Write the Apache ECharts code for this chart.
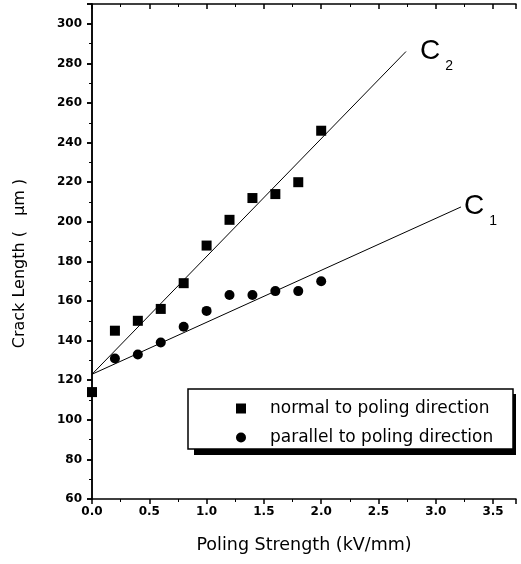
<!DOCTYPE html>
<html><head><meta charset="utf-8">
<script src="https://cdn.jsdelivr.net/npm/echarts@6/dist/echarts.min.js"></script>
<style>html,body{margin:0;padding:0;background:#fff}#c{width:521px;height:564px}</style>
</head><body><div id="c"></div>
<script>
var normalX = [0.0, 0.2, 0.4, 0.6, 0.8, 1.0, 1.2, 1.4, 1.6, 1.8, 2.0];
var normalY = [114, 145, 150, 156, 169, 188, 201, 212, 214, 220, 246];
var parallelX = [0.2, 0.4, 0.6, 0.8, 1.0, 1.2, 1.4, 1.6, 1.8, 2.0];
var parallelY = [131, 133, 139, 147, 155, 163, 163, 165, 165, 170];
var fitC2 = [[0, 123], [2.74, 286]];
var fitC1 = [[0, 123], [3.22, 207.5]];
var fitNames = ['2', '1'];

var font = '"Liberation Sans", Arial, sans-serif';
var wide = '"DejaVu Sans", sans-serif';
var chart = echarts.init(document.getElementById('c'));
function pairs(xs, ys){ return xs.map(function(x,i){return [x, ys[i]];}); }
function cLabel(sub, dist, off){
  return {show: true, distance: dist, offset: off, color: '#000',
    formatter: '{c|C}{s|' + sub + '}',
    rich: {c: {fontFamily: font, fontSize: 28, color: '#000', padding: [0, 0, 8, 0], verticalAlign: 'bottom'},
           s: {fontFamily: font, fontSize: 14, color: '#000', padding: [0, 0, 0, 5], verticalAlign: 'bottom'}}};
}

var option = {
  animation: false,
  backgroundColor: '#fff',
  grid: {left: 92, right: 5, top: 4, bottom: 65},
  legend: {
    orient: 'vertical', left: 236, top: 400, itemGap: 12, padding: 0,
    itemWidth: 10, itemHeight: 10,
    data: ['normal to poling direction', 'parallel to poling direction'],
    textStyle: {fontFamily: wide, fontSize: 17, color: '#000', padding: [0,0,0,19]}
  },
  graphic: [
    {type: 'rect', shape: {x: 194, y: 394, width: 322, height: 61}, style: {fill: '#000'}, z: 0},
    {type: 'rect', shape: {x: 188, y: 389, width: 325, height: 60}, style: {fill: '#fff', stroke: '#000', lineWidth: 1.5}, z: 1}
  ],
  xAxis: [{
    type: 'value', min: 0, max: 3.7, interval: 0.5,
    name: 'Poling Strength (kV/mm)', nameLocation: 'middle', nameGap: 37,
    nameTextStyle: {fontFamily: wide, fontSize: 17.5, color: '#000'},
    axisLine: {show: true, lineStyle: {color: '#000', width: 1.5}},
    axisTick: {show: true, inside: false, length: 5, lineStyle: {color: '#000', width: 1.5}},
    minorTick: {show: true, splitNumber: 2, length: 3, lineStyle: {color: '#000'}},
    axisLabel: {fontFamily: wide, fontSize: 12, fontWeight: 'bold', color: '#000', margin: 7, showMaxLabel: false,
      formatter: function(v){ return v.toFixed(1); }},
    splitLine: {show: false}
  }, {
    type: 'value', position: 'top', min: 0, max: 3.7, interval: 0.5,
    axisLine: {show: true, lineStyle: {color: '#000', width: 1.5}},
    axisTick: {show: true, inside: true, length: 5, lineStyle: {color: '#000', width: 1.5}},
    minorTick: {show: true, splitNumber: 2, length: 3, lineStyle: {color: '#000'}},
    axisLabel: {show: false}, splitLine: {show: false}
  }],
  yAxis: [{
    type: 'value', min: 60, max: 310, interval: 20,
    name: 'Crack Length (   \u03bcm )', nameLocation: 'middle', nameGap: 64,
    nameTextStyle: {fontFamily: wide, fontSize: 16, color: '#000', padding: [0, 24, 0, 0]},
    axisLine: {show: true, lineStyle: {color: '#000', width: 1.5}},
    axisTick: {show: true, inside: false, length: 5, lineStyle: {color: '#000', width: 1.5}},
    minorTick: {show: true, splitNumber: 2, length: 3, lineStyle: {color: '#000'}},
    axisLabel: {fontFamily: wide, fontSize: 12, fontWeight: 'bold', color: '#000', margin: 10, showMaxLabel: false},
    splitLine: {show: false}
  }, {
    type: 'value', position: 'right', min: 60, max: 310, interval: 20,
    axisLine: {show: true, lineStyle: {color: '#000', width: 1.5}},
    axisTick: {show: true, inside: true, length: 5, lineStyle: {color: '#000', width: 1.5}},
    minorTick: {show: true, splitNumber: 2, length: 3, lineStyle: {color: '#000'}},
    axisLabel: {show: false}, splitLine: {show: false}
  }],
  series: [
    {name: 'C2 fit', type: 'line', data: fitC2, symbol: 'none', lineStyle: {color: '#000', width: 1}, z: 2,
     endLabel: cLabel(fitNames[0], 14, [0, 4])},
    {name: 'C1 fit', type: 'line', data: fitC1, symbol: 'none', lineStyle: {color: '#000', width: 1}, z: 2,
     endLabel: cLabel(fitNames[1], 3, [0, 3])},
    {name: 'normal to poling direction', type: 'scatter', data: pairs(normalX, normalY),
     symbol: 'rect', symbolSize: 10, itemStyle: {color: '#000', opacity: 1}, z: 3},
    {name: 'parallel to poling direction', type: 'scatter', data: pairs(parallelX, parallelY),
     symbol: 'circle', symbolSize: 10, itemStyle: {color: '#000', opacity: 1}, z: 3}
  ]
};
chart.setOption(option);
</script>
</body></html>
